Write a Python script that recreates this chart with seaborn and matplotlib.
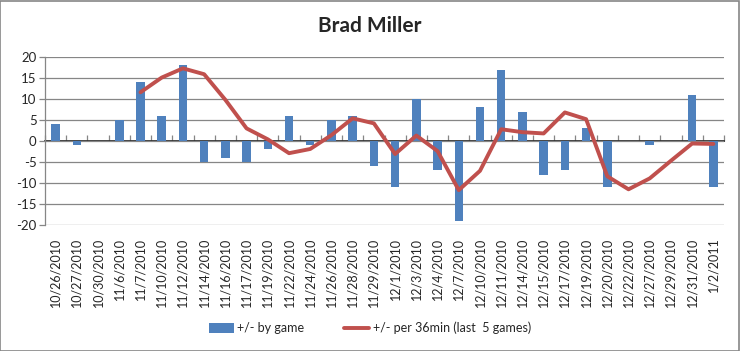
import numpy as np
import pandas as pd
import matplotlib
matplotlib.use("Agg")
import matplotlib.pyplot as plt
import seaborn as sns
from matplotlib.patches import Rectangle

dates = ["10/26/2010", "10/27/2010", "10/30/2010", "11/6/2010", "11/7/2010",
         "11/10/2010", "11/12/2010", "11/14/2010", "11/16/2010", "11/17/2010",
         "11/19/2010", "11/22/2010", "11/24/2010", "11/26/2010", "11/28/2010",
         "11/29/2010", "12/1/2010", "12/3/2010", "12/4/2010", "12/7/2010",
         "12/10/2010", "12/11/2010", "12/14/2010", "12/15/2010", "12/17/2010",
         "12/19/2010", "12/20/2010", "12/22/2010", "12/27/2010", "12/29/2010",
         "12/31/2010", "1/2/2011"]
by_game = [4, -1, 0, 5, 14, 6, 18, -5, -4, -5, -2, 6, -1, 5, 6, -6, -11, 10,
           -7, -19, 8, 17, 7, -8, -7, 3, -11, 0, -1, 0, 11, -11]
per36 = [np.nan, np.nan, np.nan, np.nan, 11.6, 15.1, 17.3, 15.9, 9.8, 3.0,
         0.4, -2.9, -1.9, 1.4, 5.4, 4.2, -3.1, 1.3, -2.4, -11.7, -7.1, 2.8,
         2.1, 1.8, 6.8, 5.2, -8.4, -11.5, -8.9, -4.7, -0.6, -0.7]
yticks = [-20, -15, -10, -5, 0, 5, 10, 15, 20]
title = "Brad Miller"
bar_label = "+/- by game"
line_label = "+/- per 36min (last  5 games)"

sns.set_theme(style="white")
plt.rcParams["font.family"] = ["Lato", "DejaVu Sans"]

GRID = "#868686"
BLUE = "#4F81BD"
RED = "#C0504D"

fig = plt.figure(figsize=(7.4, 3.51), dpi=100)
fig.patches.append(Rectangle((0.0005, 0.001), 0.998, 0.997, transform=fig.transFigure,
                             fill=False, edgecolor=GRID, linewidth=1.2))
ax = fig.add_axes([45 / 740, 1 - 225 / 351, (724 - 45) / 740, (225 - 57) / 351])

df = pd.DataFrame({"pos": np.arange(len(dates)), "date": dates,
                   "by_game": by_game, "per36": per36})

sns.barplot(data=df, x="date", y="by_game", color=BLUE, saturation=1,
            width=0.4, linewidth=0, edgecolor="none", ax=ax, label=bar_label,
            zorder=3)
line_df = df.dropna(subset=["per36"])
sns.lineplot(data=line_df, x="pos", y="per36", color=RED, linewidth=2.8,
             ax=ax, label=line_label, zorder=4)

ax.set_xlim(-0.5, len(dates) - 0.5)
ax.set_ylim(-20, 20)
ax.set_yticks(yticks)
ax.set_yticklabels([str(v) for v in yticks], fontsize=9.5)
ax.yaxis.grid(True, color=GRID, linewidth=0.9)
ax.set_axisbelow(True)
ax.set_xlabel("")
ax.set_ylabel("")
ax.set_xticks(np.arange(len(dates)))
ax.set_xticklabels(dates, rotation=90, fontsize=9)
ax.tick_params(axis="x", length=0, pad=9)
ax.tick_params(axis="y", length=4, width=0.9, color=GRID, direction="out", pad=2, left=True)
for s in ["top", "right", "bottom"]:
    ax.spines[s].set_visible(False)
ax.spines["left"].set_color(GRID)
ax.spines["left"].set_linewidth(0.9)

sec = ax.secondary_xaxis(0.5)
sec.set_xticks(np.arange(len(dates) + 1) - 0.5)
sec.set_xticklabels([])
sec.tick_params(axis="x", length=4, width=0.9, color=GRID, direction="out")
sec.spines["bottom"].set_color(GRID)
sec.spines["bottom"].set_linewidth(0.9)

fig.text(0.5, 1 - 26 / 351, title, ha="center", va="center", fontsize=15,
         fontweight="bold")

handles, labels = ax.get_legend_handles_labels()
order = [labels.index(bar_label), labels.index(line_label)]
ax.legend([handles[i] for i in order], [labels[i] for i in order],
          loc="center", bbox_to_anchor=(0.5, 1 - 328 / 351),
          bbox_transform=fig.transFigure, ncol=2, frameon=False, fontsize=9,
          handlelength=2.0, handleheight=0.8, columnspacing=3.2, handletextpad=0.3)

fig.savefig("out.png", dpi=100)
